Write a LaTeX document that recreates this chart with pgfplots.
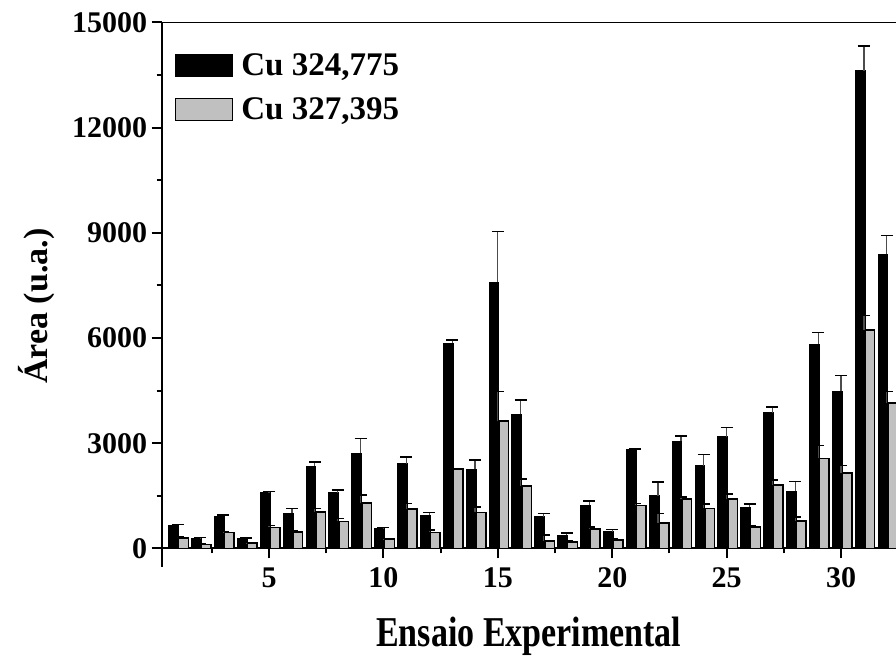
\documentclass[border=0pt]{standalone}
\usepackage{pgfplots}
\usepackage{pgfplotstable}
\pgfplotsset{compat=1.18}
\usepackage{fontspec}
\setmainfont{Liberation Serif}

% n, Cu 324,775 area and error, Cu 327,395 area and error
\pgfplotstableread{
n  b      be    g     ge
1  665    25    302   20
2  285    20    114   10
3  920    30    456   25
4  285    15    160   10
5  1587   40    598   57
6  1007   134   475   25
7  2348   123   1045  96
8  1587   76    770   76
9  2719   419   1292  238
10 570    20    265   15
11 2414   200   1121  163
12 950    77    456   66
13 5857   86    2262  20
14 2262   257   1027  160
15 7589   1455  3632  836
16 3823   408   1786  191
17 902    96    217   162
18 379    67    188   22
19 1235   123   551   66
20 475    66    237   33
21 2815   25    1226  58
22 1501   400   731   267
23 3061   143   1406  67
24 2357   324   1141  123
25 3185   257   1416  133
26 1178   95    608   28
27 3869   171   1806  143
28 1635   276   787   115
29 5820   342   2568  371
30 4479   446   2148  220
31 13617  714   6237  399
32 8388   531   4154  325
}\datatable

\definecolor{barGrey}{RGB}{192,192,192}

\begin{document}
\begin{tikzpicture}
\begin{axis}[
  name=ax,
  scale only axis,
  width=734.3pt, height=544.2pt,
  xmin=0.306, xmax=32.40,
  ymin=-520, ymax=15000,
  axis y line=left,
  axis x line=middle,
  axis line style={line width=2pt, -},
  xtick={5,10,...,30},
  minor xtick={2.5,7.5,12.5,17.5,22.5,27.5},
  ytick={0,3000,...,15000},
  minor ytick={1500,4500,...,13500},
  scaled y ticks=false,
  tick align=outside,
  major tick length=10pt,
  minor tick length=5pt,
  tick style={line width=2pt, black},
  /pgf/number format/assume math mode=true,
  /pgf/number format/set thousands separator={},
  tick label style={font=\bfseries\fontsize{30}{31}\selectfont},
  yticklabel style={xshift=-1pt},
  xticklabel style={yshift=-6pt},
  xlabel={\scalebox{1}[1.25]{Ensaio Experimental}},
  ylabel={Área (u.a.)},
  every axis x label/.style={at={(axis description cs:0.5,0)}, anchor=center,
    yshift=-70pt, font=\bfseries\fontsize{34}{36}\selectfont},
  every axis y label/.style={at={(axis description cs:0,0.479)}, xshift=-124.7pt,
    rotate=90, anchor=center, font=\bfseries\fontsize{34}{36}\selectfont},
  legend style={at={(axis description cs:0,1)}, anchor=north west,
    xshift=11pt, yshift=-27pt, draw=none, fill=none,
    font=\bfseries\fontsize{33}{35}\selectfont,
    row sep=17pt, inner sep=2pt},
  legend cell align=left,
  legend image code/.code={%
    \draw[#1, line width=1.5pt] (0pt,-11pt) rectangle (57pt,11pt);
    \path (63pt,0pt);},
  error bars/y dir=plus,
  error bars/y explicit,
  error bars/error bar style={line width=1.2pt, black!70},
  error bars/error mark options={rotate=90, mark size=6pt, line width=1.4pt, black},
]
\addplot[ybar, bar width=0.43, bar shift=-0.17, fill=black, draw=black, line width=1pt]
  table[x=n, y=b, y error=be] {\datatable};
\addlegendentry{Cu 324,775}
\addplot[ybar, bar width=0.42, bar shift=0.26, fill=barGrey, draw=black, line width=1.5pt]
  table[x=n, y=g, y error=ge] {\datatable};
\addlegendentry{Cu 327,395}
\draw[line width=2pt] (rel axis cs:0,1) -- (rel axis cs:1,1);
\end{axis}
\pgfresetboundingbox
\useasboundingbox ([xshift=-161.7pt,yshift=-90.3pt]ax.south west) rectangle ([yshift=22.5pt]ax.north east);
\end{tikzpicture}
\end{document}
